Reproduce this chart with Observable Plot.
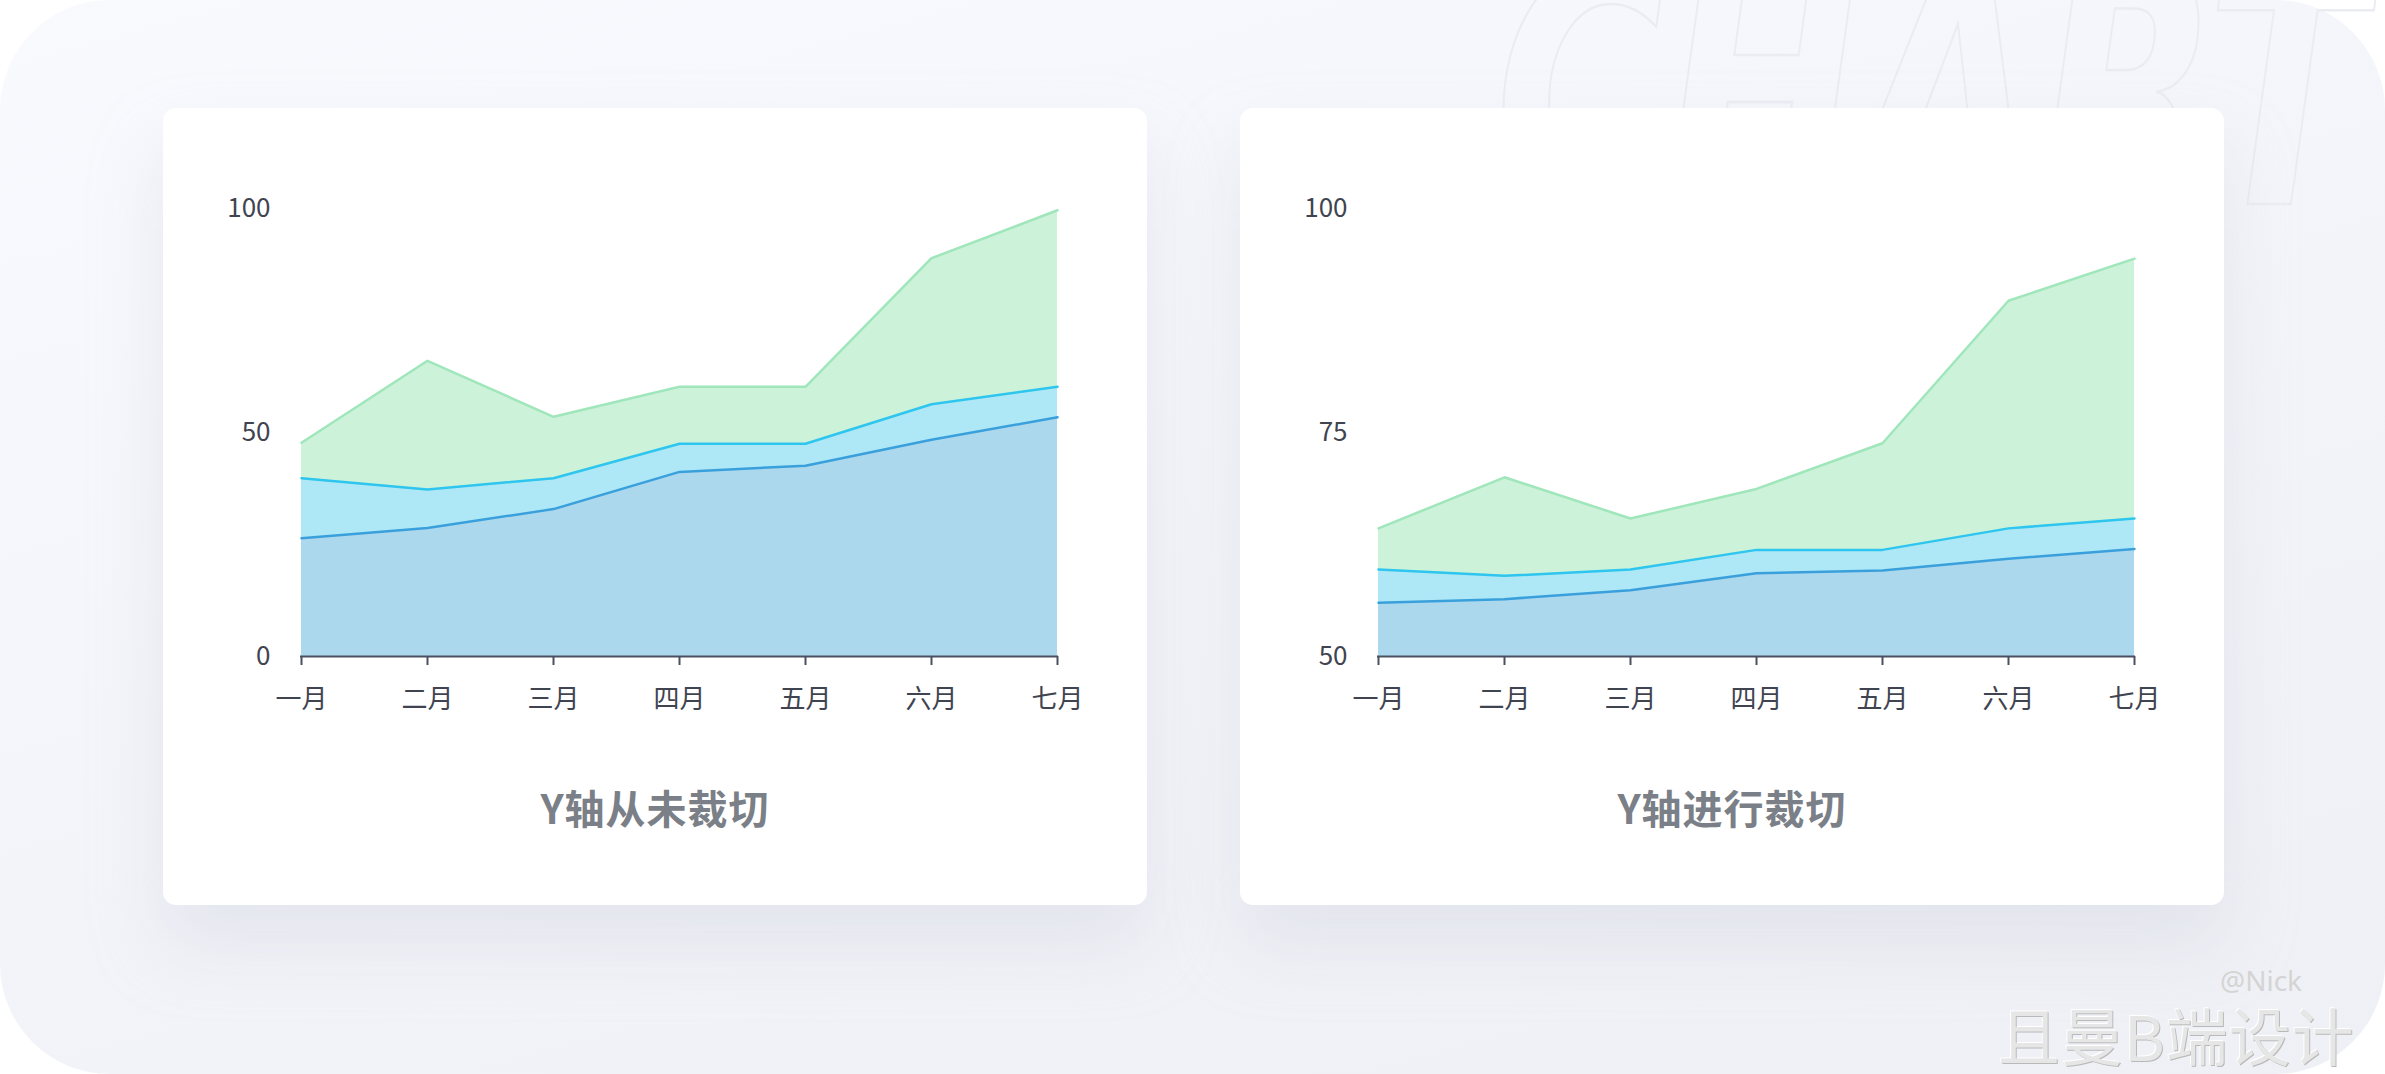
<!DOCTYPE html>
<html>
<head>
<meta charset="utf-8">
<script src="https://cdn.jsdelivr.net/npm/d3@7"></script>
<script src="https://cdn.jsdelivr.net/npm/@observablehq/plot@0.6"></script>
<style>
  html, body { margin: 0; padding: 0; background: #ffffff; }
  body { width: 2385px; height: 1074px; position: relative; overflow: hidden;
         font-family: "Noto Sans CJK SC", "Noto Sans", sans-serif; }
  #bg { position: absolute; left: 0; top: 0; width: 2385px; height: 1074px;
        border-radius: 110px;
        background: linear-gradient(165deg, #f9fafe 0%, #f3f4f9 55%, #eff0f5 100%); }
  #wm { position: absolute; left: 0; top: 0; }
  .card { position: absolute; top: 108px; width: 984px; height: 797px; background: #ffffff;
          border-radius: 13px; box-shadow: 0 40px 70px rgba(200, 204, 218, 0.35); }
  .card svg { position: absolute; left: 0; top: 0; }
  .title { position: absolute; left: 0; width: 984px; top: 670px; text-align: center;
           font-size: 40px; font-weight: 700; color: #7b7f87; letter-spacing: 1px; }
  #sig { position: absolute; left: 1998px; top: 1003px; font-size: 62px; line-height: 1; color: #e6e6e6;
         text-shadow: 1px 1px 0 #b9b9b9, -1px -1px 0 #ffffff; letter-spacing: 1px; white-space: nowrap; }
  #nick { position: absolute; left: 2220px; top: 966px; font-size: 28px; line-height: 1; color: #d4d4d4;
          font-family: "Noto Sans", sans-serif; }
</style>
</head>
<body>
<div id="bg"></div>
<svg id="wm" width="2385" height="300">
  <text x="1495" y="204" font-size="330" font-family="DejaVu Sans Condensed" font-weight="bold"
        font-style="italic" fill="none" stroke="#eaecf2" stroke-width="2.5"
        textLength="870" lengthAdjust="spacingAndGlyphs">CHART</text>
</svg>
<div class="card" id="c1" style="left:163px"><div class="title">Y轴从未裁切</div></div>
<div class="card" id="c2" style="left:1240px"><div class="title">Y轴进行裁切</div></div>
<div id="nick">@Nick</div>
<div id="sig">且曼B端设计</div>
<script>
const months = ["一月", "二月", "三月", "四月", "五月", "六月", "七月"];

// Left chart (y axis from 0)
const leftBlue  = [26.4, 28.7, 32.9, 41.2, 42.6, 48.4, 53.4];
const leftCyan  = [39.8, 37.3, 39.8, 47.5, 47.5, 56.3, 60.2];
const leftGreen = [47.7, 66.0, 53.5, 60.2, 60.2, 88.9, 99.6];
const leftTicks = [0, 50, 100];

// Right chart (y axis clipped at 50)
const rightBlue  = [56.0, 56.4, 57.4, 59.3, 59.6, 60.9, 62.0];
const rightCyan  = [59.7, 59.0, 59.7, 61.9, 61.9, 64.3, 65.4];
const rightGreen = [64.3, 70.0, 65.4, 68.7, 73.8, 89.7, 94.4];
const rightTicks = [50, 75, 100];

const colors = {
  blueFill: "#acd8ee", blueLine: "#3aa0dc",
  cyanFill: "#aee8f6", cyanLine: "#2ec5ee",
  greenFill: "#cdf2da", greenLine: "#a0e6bb"
};

function makeChart(blue, cyan, green, ticks) {
  const base = ticks[0];
  const data = months.map((m, i) => ({month: m, blue: blue[i], cyan: cyan[i], green: green[i]}));
  return Plot.plot({
    width: 984, height: 618,
    marginLeft: 137, marginRight: 89, marginTop: 100, marginBottom: 70,
    x: {type: "point", domain: months, padding: 0, label: null},
    y: {domain: [base, 100], label: null},
    style: {fontSize: "26px", fontFamily: "'Noto Sans CJK SC', 'Noto Sans', sans-serif",
            color: "#3f4450", background: "transparent", overflow: "visible"},
    marks: [
      Plot.ruleY(ticks.slice(1), {stroke: "#ececec", strokeWidth: 2, x1: months[0], x2: months[6], insetRight: -6}),
      Plot.areaY(data, {x: "month", y1: base, y2: "green", fill: colors.greenFill}),
      Plot.areaY(data, {x: "month", y1: base, y2: "cyan", fill: colors.cyanFill}),
      Plot.areaY(data, {x: "month", y1: base, y2: "blue", fill: colors.blueFill}),
      Plot.lineY(data, {x: "month", y: "green", stroke: colors.greenLine, strokeWidth: 2.5}),
      Plot.lineY(data, {x: "month", y: "cyan", stroke: colors.cyanLine, strokeWidth: 2.5}),
      Plot.lineY(data, {x: "month", y: "blue", stroke: colors.blueLine, strokeWidth: 2.5}),
      Plot.ruleY([base], {stroke: "#4a5060", strokeWidth: 2}),
      Plot.axisX({tickSize: 9, tickPadding: 24, stroke: "#4a5060", strokeWidth: 2, fill: "#3f4450"}),
      Plot.axisY({ticks: ticks, tickSize: 0, tickPadding: 30, fill: "#3f4450"})
    ]
  });
}

document.getElementById("c1").prepend(makeChart(leftBlue, leftCyan, leftGreen, leftTicks));
document.getElementById("c2").prepend(makeChart(rightBlue, rightCyan, rightGreen, rightTicks));
</script>
</body>
</html>
